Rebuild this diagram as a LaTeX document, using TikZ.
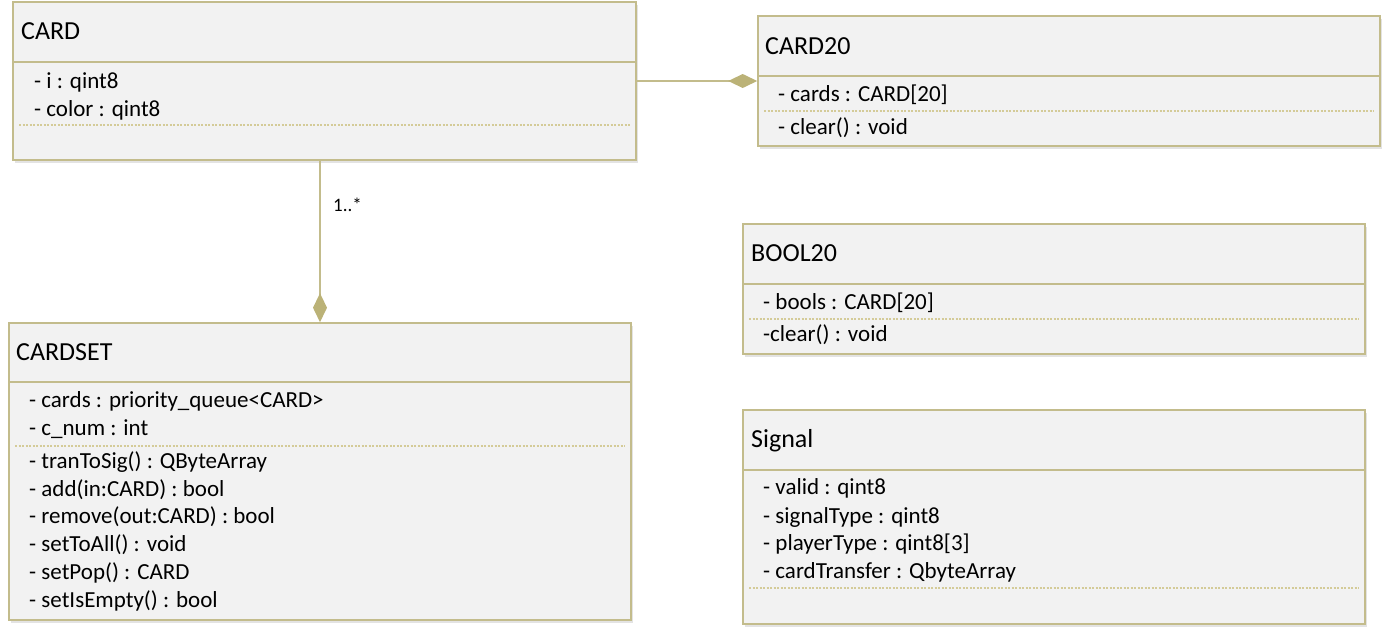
\documentclass[tikz,border=0pt]{standalone}
\usepackage{fontspec}
\setmainfont{Carlito}
\usetikzlibrary{arrows.meta,shadows}
\definecolor{bordc}{HTML}{C3BC8C}
\definecolor{diamc}{HTML}{BBB277}
\definecolor{dotc}{HTML}{D4CB98}
\definecolor{boxfill}{HTML}{F2F2F2}
\tikzset{
  clsbox/.style={draw=bordc, fill=boxfill, line width=1.6pt, rectangle, inner sep=0pt,
    drop shadow={shadow xshift=2pt, shadow yshift=-3pt, opacity=0.22, fill=black!50}},
  divline/.style={draw=bordc, line width=2pt},
  dotline/.style={draw=dotc, line width=1.2pt, dash pattern=on 2pt off 1.5pt},
  ttl/.style={anchor=base west, inner sep=0pt, font=\fontsize{26}{30}\selectfont},
  attr/.style={anchor=base west, inner sep=0pt, font=\fontsize{23}{28}\selectfont},
  mult/.style={anchor=base west, inner sep=0pt, font=\fontsize{19}{22}\selectfont},
  comp/.style={draw=bordc, line width=1.6pt, -{Diamond[length=29pt,width=14pt,fill=diamc,color=diamc]}},
}
\begin{document}
\begin{tikzpicture}[x=1pt,y=-1pt]
\useasboundingbox (0,0) rectangle (1388,634);
% boxes
\node[clsbox, minimum width=623pt, minimum height=158pt] (card) at (324.5,81) {};
\node[clsbox, minimum width=622pt, minimum height=130pt] (card20) at (1069,81) {};
\node[clsbox, minimum width=622pt, minimum height=130pt] (bool20) at (1054,289) {};
\node[clsbox, minimum width=622pt, minimum height=297pt] (cardset) at (320,471.5) {};
\node[clsbox, minimum width=622pt, minimum height=214pt] (signal) at (1054,517) {};
% dividers
\draw[divline] (card.west |- 0,62) -- (card.east |- 0,62);
\draw[divline] (card20.west |- 0,76) -- (card20.east |- 0,76);
\draw[divline] (bool20.west |- 0,284) -- (bool20.east |- 0,284);
\draw[divline] (cardset.west |- 0,382) -- (cardset.east |- 0,382);
\draw[divline] (signal.west |- 0,470) -- (signal.east |- 0,470);
% dotted separators
\draw[dotline] (19,125) -- (630,125);
\draw[dotline] (764,111) -- (1374,111);
\draw[dotline] (749,319) -- (1359,319);
\draw[dotline] (15,446) -- (625,446);
\draw[dotline] (749,588) -- (1359,588);
% CARD
\node[ttl] (cardT) at (21,40) {CARD};
\node[attr] (cardA1) at (34,88) {- i : qint8};
\node[attr] (cardA2) at (34,116) {- color : qint8};
% CARD20
\node[ttl] (card20T) at (765,55) {CARD20};
\node[attr] (card20A1) at (778,101) {- cards : CARD[20]};
\node[attr] (card20M1) at (778,134) {- clear() : void};
% BOOL20
\node[ttl] (bool20T) at (751,261) {BOOL20};
\node[attr] (bool20A1) at (763,309) {- bools : CARD[20]};
\node[attr] (bool20M1) at (763,341) {-clear() : void};
% CARDSET
\node[ttl] (cardsetT) at (16,360) {CARDSET};
\node[attr] (csA1) at (29,407) {- cards : priority\_queue<CARD>};
\node[attr] (csA2) at (29,435) {- c\_num : int};
\node[attr] (csM1) at (29,468) {- tranToSig() : QByteArray};
\node[attr] (csM2) at (29,496) {- add(in:CARD) : bool};
\node[attr] (csM3) at (29,523) {- remove(out:CARD) : bool};
\node[attr] (csM4) at (29,551) {- setToAll() : void};
\node[attr] (csM5) at (29,579) {- setPop() : CARD};
\node[attr] (csM6) at (29,607) {- setIsEmpty() : bool};
% Signal
\node[ttl] (signalT) at (751,447) {Signal};
\node[attr] (sgA1) at (763,494) {- valid : qint8};
\node[attr] (sgA2) at (763,523) {- signalType : qint8};
\node[attr] (sgA3) at (763,550) {- playerType : qint8[3]};
\node[attr] (sgA4) at (763,578) {- cardTransfer : QbyteArray};
% connectors
\draw[comp] (card.east) -- (card20.west);
\draw[comp] (cardset.north |- card.south) -- (cardset.north);
\node[mult] (multL) at (333,211) {1..*};
\end{tikzpicture}
\end{document}
